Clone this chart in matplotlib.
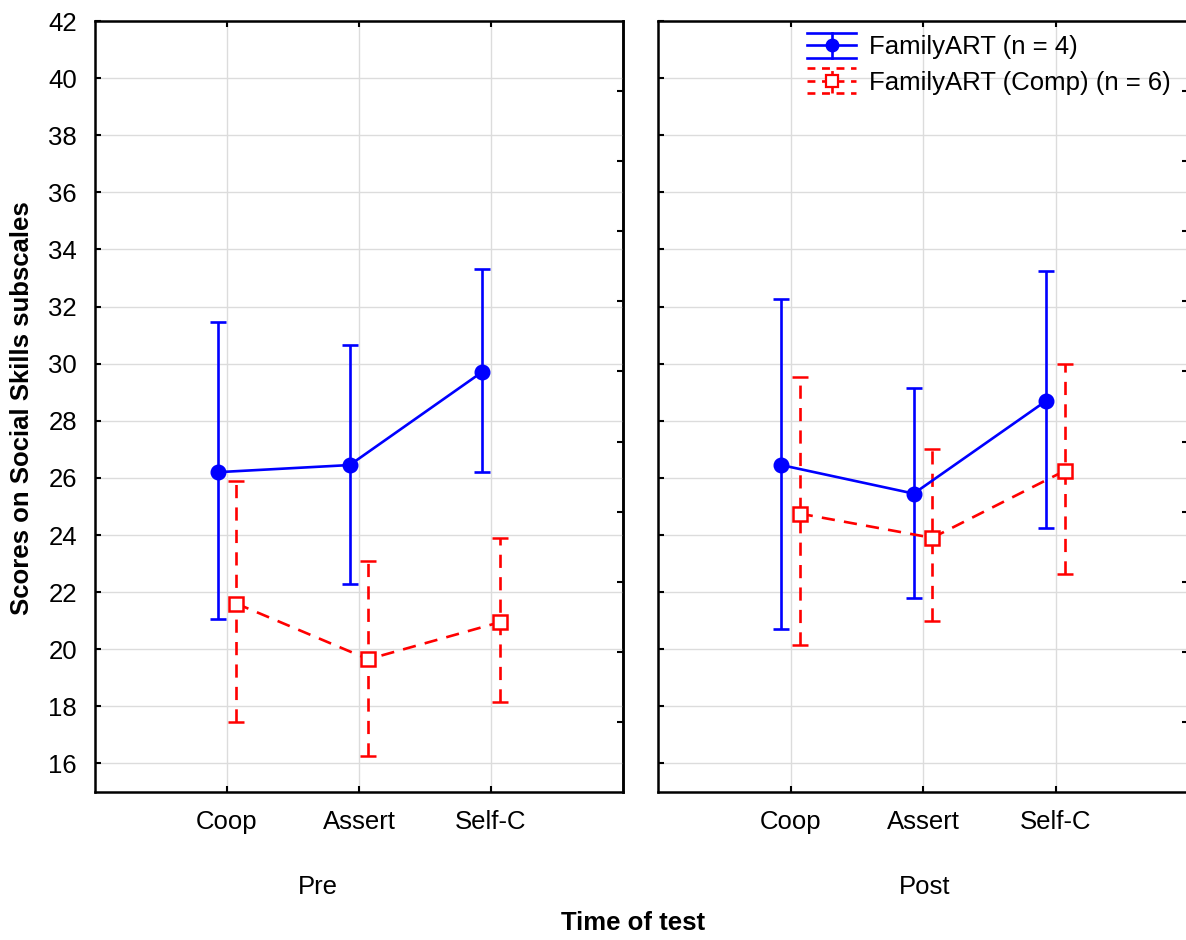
import matplotlib
matplotlib.use("Agg")
import matplotlib.pyplot as plt
from matplotlib.lines import Line2D
from matplotlib.legend_handler import HandlerBase
import numpy as np

categories = ["Coop", "Assert", "Self-C"]
panels = ["Pre", "Post"]
series_labels = ["FamilyART (n = 4)", "FamilyART (Comp) (n = 6)"]

pre_fam_mean = [26.2, 26.45, 29.7]
pre_fam_lo = [21.05, 22.3, 26.2]
pre_fam_hi = [31.45, 30.65, 33.3]
pre_comp_mean = [21.6, 19.65, 20.95]
pre_comp_lo = [17.45, 16.25, 18.15]
pre_comp_hi = [25.9, 23.1, 23.9]

post_fam_mean = [26.45, 25.45, 28.7]
post_fam_lo = [20.7, 21.8, 24.25]
post_fam_hi = [32.25, 29.15, 33.25]
post_comp_mean = [24.75, 23.9, 26.25]
post_comp_lo = [20.15, 21.0, 22.65]
post_comp_hi = [29.55, 27.0, 30.0]

yticks = list(range(16, 43, 2))

plt.rcParams['font.family'] = ['Liberation Sans', 'DejaVu Sans']

W, H = 1186, 940
fig = plt.figure(figsize=(W / 100, H / 100), dpi=100)

def fx(px):
    return px / W

def fy(py):
    return 1 - py / H

FS = 18.5

ax_l = fig.add_axes([fx(95), fy(792), fx(528), fy(21) - fy(792)])
ax_r = fig.add_axes([fx(658), fy(792), fx(530), fy(21) - fy(792)])

blue_style = dict(color='#0000ff', lw=1.9, marker='o', ms=10.5, mfc='#0000ff',
                  mec='#0000ff', capsize=5.5, capthick=1.9, elinewidth=1.9)
red_style = dict(color='#ff0000', lw=1.9, marker='s', ms=9.5, mfc='white',
                 mec='#ff0000', mew=1.8, capsize=5.5, capthick=1.9, elinewidth=1.9,
                 ls=(0, (5, 3.5)))

data = {
    "Pre": [(pre_fam_mean, pre_fam_lo, pre_fam_hi), (pre_comp_mean, pre_comp_lo, pre_comp_hi)],
    "Post": [(post_fam_mean, post_fam_lo, post_fam_hi), (post_comp_mean, post_comp_lo, post_comp_hi)],
}
offsets = [-0.07, 0.07]
styles = [blue_style, red_style]

x = np.arange(1, len(categories) + 1)
ymin, ymax = 15, 42
ndiv = 11

for ax, panel in zip([ax_l, ax_r], panels):
    for (mean, lo, hi), off, st in zip(data[panel], offsets, styles):
        mean = np.array(mean); lo = np.array(lo); hi = np.array(hi)
        eb = ax.errorbar(x + off, mean, yerr=[mean - lo, hi - mean], **st, zorder=3)
        if st is red_style:
            for bl in eb[2]:
                bl.set_linestyle((0, (5, 3.5)))
    ax.set_xlim(0, 4)
    ax.set_ylim(ymin, ymax)
    ax.set_xticks(x)
    ax.set_xticklabels(categories)
    ax.set_yticks(yticks)
    ax.grid(True, color='#dcdcdc', lw=1.0, zorder=0)
    ax.set_axisbelow(True)
    for s in ax.spines.values():
        s.set_linewidth(1.8)
    ax.tick_params(axis='both', direction='in', length=4, width=1.5, labelsize=FS,
                   top=True, right=False, colors='black')
    ax.tick_params(axis='x', pad=13)
    ax.tick_params(axis='y', pad=13)
    sec = ax.secondary_yaxis('right', functions=(lambda v: (v - ymin) / (ymax - ymin) * ndiv,
                                                  lambda f: f / ndiv * (ymax - ymin) + ymin))
    sec.set_yticks(range(1, ndiv))
    sec.set_yticklabels([])
    sec.tick_params(direction='in', length=4, width=1.5)
    sec.spines['right'].set_linewidth(1.8)

ax_r.set_yticklabels([])

fig.text(fx(318), fy(887), "Pre", ha='center', va='center', fontsize=FS)
fig.text(fx(925), fy(887), "Post", ha='center', va='center', fontsize=FS)
fig.text(fx(633), fy(923), "Time of test", ha='center', va='center', fontsize=18.5,
         fontweight='bold')
fig.text(fx(22), fy(408), "Scores on Social Skills subscales", ha='center', va='center',
         rotation=90, fontsize=18.5, fontweight='bold')


class ErrHandler(HandlerBase):
    def __init__(self, color, ls, marker, mfc, ms, mew):
        super().__init__()
        self.c = color; self.ls = ls; self.marker = marker
        self.mfc = mfc; self.ms = ms; self.mew = mew

    def create_artists(self, legend, orig_handle, xdescent, ydescent, width, height,
                       fontsize, trans):
        x0, x1 = -xdescent, -xdescent + width
        ym = -ydescent + height / 2
        h = height * 0.7
        xm = (x0 + x1) / 2
        arts = []
        for yy in (ym - h, ym + h):
            arts.append(Line2D([x0, x1], [yy, yy], color=self.c, lw=1.9, ls=self.ls))
        arts.append(Line2D([x0, x1], [ym, ym], color=self.c, lw=1.9, ls=self.ls))
        arts.append(Line2D([xm, xm], [ym - h, ym + h], color=self.c, lw=1.9, ls=self.ls))
        arts.append(Line2D([xm], [ym], color=self.c, marker=self.marker, mfc=self.mfc,
                           mec=self.c, ms=self.ms, mew=self.mew, ls='none'))
        for a in arts:
            a.set_transform(trans)
        return arts


h1 = Line2D([], [], color='#0000ff')
h2 = Line2D([], [], color='#ff0000')
leg = ax_r.legend([h1, h2], series_labels, frameon=False, fontsize=FS,
                  loc='upper left', bbox_to_anchor=(fx(802), fy(30)),
                  bbox_transform=fig.transFigure, handlelength=1.9, handletextpad=0.5,
                  labelspacing=0.45, borderaxespad=0, borderpad=0.2,
                  handler_map={h1: ErrHandler('#0000ff', '-', 'o', '#0000ff', 9, 1),
                               h2: ErrHandler('#ff0000', (0, (3, 2.5)), 's', 'white', 8, 1.6)})

fig.savefig("out.png", dpi=100)
